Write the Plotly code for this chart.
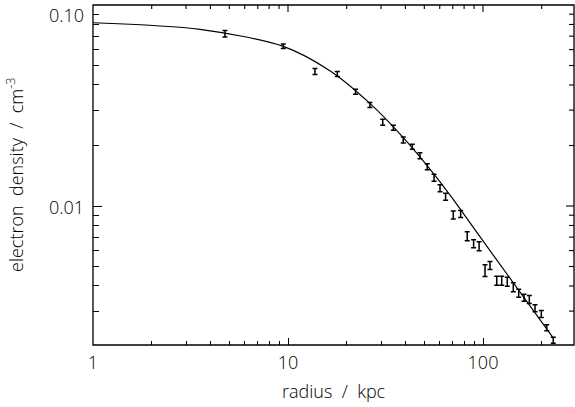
import plotly.graph_objects as go
import math

# ---- data ----
radius_kpc = [4.75, 9.46, 13.75, 17.9, 22.2, 26.3, 30.6, 34.7, 39.0, 43.4, 47.5,
              51.8, 56.1, 60.2, 64.3, 70.4, 76.8, 83.0, 89.5, 95.5, 102.4, 108.6,
              117.6, 124.7, 133.2, 143.0, 152.4, 162.3, 172.8, 184.8, 199.1, 212.2, 229.3]
density = [0.0720, 0.0623, 0.0467, 0.04536, 0.03704, 0.03181, 0.02609, 0.02453, 0.0213,
           0.01972, 0.01779, 0.01569, 0.01383, 0.01225, 0.01113, 0.00902, 0.00912, 0.00707,
           0.00649, 0.0063, 0.00477, 0.00506, 0.00425, 0.00425, 0.0042, 0.00394, 0.00368,
           0.0035, 0.00343, 0.0031, 0.0029, 0.00248, 0.00215]
density_relerr = [0.0385, 0.0255, 0.035, 0.029, 0.029, 0.029, 0.035, 0.029, 0.035, 0.029,
                  0.035, 0.035, 0.041, 0.041, 0.041, 0.047, 0.041, 0.053, 0.047, 0.053,
                  0.071, 0.047, 0.053, 0.053, 0.053, 0.053, 0.047, 0.041, 0.047, 0.041,
                  0.041, 0.035, 0.035]

model_r = [1.0, 3.54, 9.46, 16.4, 26.3, 39.0, 57.9, 69.3, 100.0, 229.5]
model_n = [0.0816, 0.0757, 0.0623, 0.0471, 0.0324, 0.0219, 0.01386, 0.0110, 0.0067, 0.0022]

x_ticks = [1, 10, 100]
x_ticktext = ["1", "10", "100"]
x_minor = [2, 3, 4, 5, 6, 7, 8, 9, 20, 30, 40, 50, 60, 70, 80, 90, 200]
y_ticks = [0.01, 0.1]
y_ticktext = ["0.01", "0.10"]
y_minor = [0.003, 0.004, 0.005, 0.006, 0.007, 0.008, 0.009,
           0.02, 0.03, 0.04, 0.05, 0.06, 0.07, 0.08, 0.09]
x_title = "radius  /  kpc"
y_title = "electron  density  /  cm<sup>-3</sup>"

FONT = "Open Sans"
TXT = dict(family=FONT, size=18, color="black", weight=300)
err_plus = [n * e for n, e in zip(density, density_relerr)]
err_minus = [n * (1 - 1 / (1 + e)) for n, e in zip(density, density_relerr)]

W, H = 575, 407
ML, MR, MT, MB = 93, 1, 5, 62
PW, PH = W - ML - MR, H - MT - MB
X_RANGE = [0, PW / 195]
Y_RANGE = [-1 - PH / 201, -1]

fig = go.Figure()
fig.add_trace(go.Scatter(
    x=model_r, y=model_n, mode="lines",
    line=dict(color="black", width=1.2, shape="spline", smoothing=0.8),
    showlegend=False, hoverinfo="skip"))
fig.add_trace(go.Scatter(
    x=radius_kpc, y=density, mode="markers",
    marker=dict(size=1, color="black"),
    error_y=dict(type="data", array=err_plus, arrayminus=err_minus,
                 color="black", thickness=1.5, width=2.5),
    showlegend=False))

fig.update_xaxes(
    type="log", showgrid=False, zeroline=False, showline=False,
    ticks="inside", tickcolor="black", tickwidth=1.1, automargin=False,
    range=X_RANGE, tickmode="array", tickvals=x_ticks, ticktext=x_ticktext, ticklen=7,
    minor=dict(tickmode="array", tickvals=x_minor, ticks="inside", ticklen=4,
               tickcolor="black", tickwidth=1.1, showgrid=False),
    tickfont=TXT, ticklabelstandoff=5,
)
fig.update_yaxes(
    type="log", showgrid=False, zeroline=False, showline=False,
    ticks="inside", tickcolor="black", tickwidth=1.1, automargin=False,
    range=Y_RANGE, tickmode="array", tickvals=y_ticks, ticktext=y_ticktext, ticklen=9,
    showticklabels=False,
    minor=dict(tickmode="array", tickvals=y_minor, ticks="inside", ticklen=5.5,
               tickcolor="black", tickwidth=1.1, showgrid=False),
)

# frame plus mirrored ticks on the top and right edges (paper coordinates)
shapes = [dict(type="rect", xref="paper", yref="paper", x0=0, x1=1, y0=0, y1=1,
               line=dict(color="black", width=1.3), layer="above")]
def xfrac(v):
    return (math.log10(v) - X_RANGE[0]) / (X_RANGE[1] - X_RANGE[0])
def yfrac(v):
    return (math.log10(v) - Y_RANGE[0]) / (Y_RANGE[1] - Y_RANGE[0])
for vals, ln in ((x_ticks, 7), (x_minor, 4)):
    for v in vals:
        f = xfrac(v)
        if 0 < f < 1:
            shapes.append(dict(type="line", xref="paper", yref="paper",
                               x0=f, x1=f, y0=1, y1=1 - ln / PH,
                               line=dict(color="black", width=1.1), layer="above"))
for vals, ln in ((y_ticks, 8), (y_minor, 5)):
    for v in vals:
        f = yfrac(v)
        if 0 < f < 1:
            shapes.append(dict(type="line", xref="paper", yref="paper",
                               x0=1, x1=1 - ln / PW, y0=f, y1=f,
                               line=dict(color="black", width=1.1), layer="above"))

annotations = []
for v, t in zip(y_ticks, y_ticktext):
    top = v == max(y_ticks)
    annotations.append(dict(
        x=0, xref="paper", xanchor="right", xshift=-7,
        y=math.log10(v), yref="y", yanchor="top" if top else "middle",
        yshift=4 if top else -1,
        text=t, showarrow=False, font=TXT))
annotations.append(dict(x=0.5, xref="paper", y=0, yref="paper",
                        xanchor="center", yanchor="middle", yshift=-46,
                        text=x_title, showarrow=False, font=TXT))
annotations.append(dict(x=0, xref="paper", y=0.5, yref="paper",
                        xanchor="center", yanchor="middle", xshift=-78,
                        textangle=-90, text=y_title, showarrow=False, font=TXT))

fig.update_layout(
    width=W, height=H,
    margin=dict(l=ML, r=MR, t=MT, b=MB),
    plot_bgcolor="white", paper_bgcolor="white",
    annotations=annotations,
    shapes=shapes,
)

fig.write_html("out.html",
               config={"displayModeBar": False},
               post_script="document.body.style.margin='0';document.body.style.overflow='hidden';")
